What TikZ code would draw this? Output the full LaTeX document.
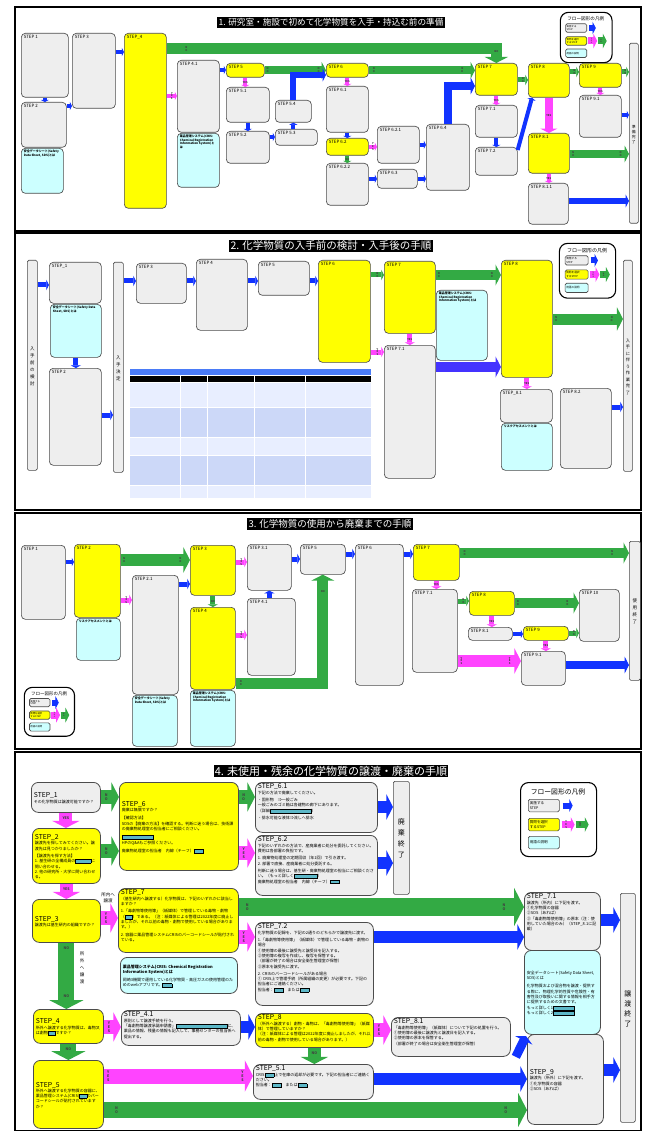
\documentclass[tikz,border=0pt]{standalone}
\usepackage{fontspec}
\setmainfont{Noto Sans CJK JP}
\XeTeXlinebreaklocale "ja"
\XeTeXlinebreakskip=0pt plus .5pt
\usetikzlibrary{arrows.meta,calc}

\definecolor{boxG}{HTML}{EEEEEE}
\definecolor{boxY}{HTML}{FFFF00}
\definecolor{boxC}{HTML}{CCFFFF}
\definecolor{arB}{HTML}{1133FF}
\definecolor{arG}{HTML}{33AA44}
\definecolor{arM}{HTML}{FF44FF}
\definecolor{arP}{HTML}{4433FF}
\definecolor{lnkC}{HTML}{5DB8C8}
\definecolor{tblT}{HTML}{4A7BF7}
\definecolor{tblA}{HTML}{E8EEFF}
\definecolor{tblB}{HTML}{CCD8F8}

\tikzset{
  gbox/.style={draw=black!70, fill=boxG, rounded corners=4pt, line width=.65pt},
  ybox/.style={gbox, fill=boxY},
  cbox/.style={gbox, fill=boxC},
  endbar/.style={gbox, rounded corners=1.5pt},
  big/.style={rounded corners=7pt, line width=.8pt, font=\fontsize{4}{5.3}\selectfont},
  sm/.style={font=\fontsize{3}{3.7}\selectfont},
  band/.style={line width=#1, -{Triangle[length=0pt .55, width=0pt 2.1]}},
  lb/.style={font=\fontsize{2.6}{2.9}\selectfont\bfseries, align=center, inner sep=0pt, text=black!75},
  lb4/.style={font=\fontsize{3.6}{3.9}\selectfont\bfseries, align=center, inner sep=0pt, text=black!75},
  lgb/.style={anchor=north west, minimum width=31pt, minimum height=12.5pt, rounded corners=1.5pt,
    inner sep=1pt, align=left, text width=28pt, font=\fontsize{3.6}{4.2}\selectfont},
  ttl/.style={fill=black, text=white, inner sep=1.2pt},
  frm/.style={line width=1.5pt}
}

% box: name, style, inner pos, x, y, width, height, text
\newcommand\bx[8]{%
  \node[#2, anchor=north west, inner sep=0pt, minimum width=#6pt, minimum height=#7pt] (#1) at (#4,#5)
    {\parbox[c][#7pt][#3]{\dimexpr#6pt-5pt\relax}{\raggedright\vspace*{1.5pt}#8}};}
\newcommand\sst[1]{{\fontsize{4.4}{5.2}\selectfont #1\par}}
\newcommand\stp[1]{{\fontsize{6.8}{8.2}\selectfont #1\par}}
\newcommand\hd[1]{{\bfseries #1\par}}
\newcommand\lk[1]{{\setlength\fboxsep{.4pt}\setlength\fboxrule{.45pt}\fcolorbox{black}{lnkC}{\rule{0pt}{2.6pt}\hspace{#1pt}}}}

\newcommand\flowlegend[3]{%
  \begin{scope}[shift={(#1,#2)}, scale=#3, transform shape]
    \node[draw, line width=1.1pt, rounded corners=8pt, anchor=north west, minimum width=76pt,
      minimum height=74pt, inner sep=0pt] (lgf) at (0,0) {};
    \node[font=\fontsize{6.8}{7}\selectfont] (lgt) at (38,10) {フロー図形の凡例};
    \node[gbox, lgb] (lg1) at (8,17) {実施する\\STEP};
    \node[ybox, lgb] (lg2) at (8,36) {質問を選択\\するSTEP};
    \node[cbox, lgb] (lg3) at (8,54) {用語の説明};
    \draw[band=6pt, arB] ($(lg1.east)+(3,0)$) -- ($(lg1.east)+(13,0)$);
    \draw[band=7pt, arM] ($(lg2.east)+(2,0)$) -- ($(lg2.east)+(15,0)$) node[lb,pos=.35] (lgy) {Y\\E\\S};
    \draw[band=7pt, arG] ($(lg2.east)+(16,0)$) -- ($(lg2.east)+(29,0)$) node[lb,pos=.35] (lgn) {N\\O};
  \end{scope}}

\begin{document}
\begin{tikzpicture}[x=1pt, y=-1pt, font=\fontsize{4}{5.3}\selectfont]
\useasboundingbox (0,0) rectangle (649,1131);
\fill[white] (0,0) rectangle (649,1131);

\draw[frm] (15,7) rectangle (641,231);
\draw[frm] (15,233) rectangle (641,510);
\draw[frm] (15,513) rectangle (641,749);
\draw[frm] (15,752) rectangle (641,1131);

% panel 1
\node[ttl, font=\fontsize{8.6}{9}\selectfont] (t1) at (331,22.5) {1. 研究室・施設で初めて化学物質を入手・持込む前の準備};
\flowlegend{560}{12}{.68}
\bx{p1s1}{gbox}{t}{21}{33}{47}{64}{\sst{STEP 1}}
\bx{p1s2}{gbox}{t}{21}{102}{45}{45}{\sst{STEP 2}}
\bx{p1c1}{cbox,sm}{t}{21}{148}{42}{45}{\hd{安全データシート(Safety Data Sheet, SDS)とは}}
\bx{p1s3}{gbox}{t}{72}{33}{43}{75}{\sst{STEP 3}}
\bx{p1s4}{ybox}{t}{124}{33}{42}{175}{\sst{STEP\_4}}
\bx{p1s41}{gbox}{t}{177}{60}{42}{72}{\sst{STEP 4.1}}
\bx{p1c2}{cbox,sm}{t}{177}{133}{42}{54}{\hd{薬品管理システム(CRIS: Chemical Registration Information System)とは}}
\bx{p1s5}{ybox}{t}{226}{63}{38}{14}{\sst{STEP 5}}
\bx{p1s51}{gbox}{t}{226}{87}{43}{35}{\sst{STEP 5.1}}
\bx{p1s52}{gbox}{t}{226}{131}{43}{32}{\sst{STEP 5.2}}
\bx{p1s54}{gbox}{t}{275}{100}{36}{22}{\sst{STEP 5.4}}
\bx{p1s53}{gbox}{t}{275}{129}{42}{16}{\sst{STEP 5.3}}
\bx{p1s6}{ybox}{t}{326}{63}{42}{14}{\sst{STEP 6}}
\bx{p1s61}{gbox}{t}{326}{86}{42}{46}{\sst{STEP 6.1}}
\bx{p1s62}{ybox}{t}{326}{138}{42}{17}{\sst{STEP 6.2}}
\bx{p1s622}{gbox}{t}{326}{163}{42}{42}{\sst{STEP 6.2.2}}
\bx{p1s621}{gbox}{t}{377}{126}{42}{37}{\sst{STEP 6.2.1}}
\bx{p1s63}{gbox}{t}{377}{169}{40}{19}{\sst{STEP 6.3}}
\bx{p1s64}{gbox}{t}{426}{124}{43}{66}{\sst{STEP 6.4}}
\bx{p1s7}{ybox}{t}{475}{63}{42}{32}{\sst{STEP 7}}
\bx{p1s71}{gbox}{t}{475}{105}{42}{32}{\sst{STEP 7.1}}
\bx{p1s72}{gbox}{t}{475}{147}{42}{28}{\sst{STEP 7.2}}
\bx{p1s8}{ybox}{t}{528}{63}{41}{34}{\sst{STEP 8}}
\bx{p1s81}{ybox}{t}{528}{133}{41}{40}{\sst{STEP 8.1}}
\bx{p1s811}{gbox}{t}{528}{183}{40}{41}{\sst{STEP 8.1.1}}
\bx{p1s9}{ybox}{t}{579}{63}{42}{24}{\sst{STEP 9}}
\bx{p1s91}{gbox}{t}{579}{95}{42}{42}{\sst{STEP 9.1}}
\bx{p1bar}{endbar}{c}{629}{43}{9}{180}{{\fontsize{3.8}{5}\selectfont\centering 準\\備\\完\\了\par}}

\draw[band=4pt,arB] (p1s1.south) -- (p1s1.south |- p1s2.north);
\draw[band=4pt,arB] (p1s2.north east |- 0,106) -- (p1s3.west |- 0,106);
\draw[band=4pt,arB] (p1s3.east |- 0,52) -- (p1s4.west |- 0,52);
\draw[band=11pt,arG] (p1s4.east |- 0,49) -| (p1s7.north) node[lb,pos=.03] (n1a) {N\\O} node[lb,pos=.6] (n1b) {NO};
\draw[band=4pt,arM] (p1s4.east |- 0,96) -- (p1s41.west |- 0,96) node[lb,midway] (y1a) {Y\\E\\S};
\draw[band=4pt,arB] (p1s41.east |- 0,70) -- (p1s5.west |- 0,70);
\draw[band=8pt,arG] (p1s5.east) -- (p1s6.west) node[lb,pos=.05] (n1c) {N\\O} node[lb,pos=.88] (n1d) {N\\O};
\draw[band=4pt,arM] (p1s5.south) -- (p1s5.south |- p1s51.north) node[lb,midway] (y1b) {YES};
\draw[band=4pt,arB] (p1s51.south) -- (p1s51.south |- p1s52.north);
\draw[band=4pt,arB] (p1s52.east |- 0,137) -- (p1s53.west |- 0,137);
\draw[band=4pt,arB] (p1s54.south |- p1s53.north) -- (p1s54.south);
\draw[band=6pt,arB] (p1s54.north) |- (p1s6.west |- 0,75);
\draw[band=8pt,arG] (p1s6.east) -- (p1s7.west |- p1s6.east) node[lb,pos=.05] (n1e) {N\\O} node[lb,pos=.88] (n1f) {N\\O};
\draw[band=4pt,arM] (p1s6.south) -- (p1s6.south |- p1s61.north) node[lb,midway] (y1c) {YES};
\draw[band=4pt,arB] (p1s61.south) -- (p1s61.south |- p1s62.north);
\draw[band=4pt,arM] (p1s62.east) -- (p1s62.east -| p1s621.west) node[lb,midway] (y1d) {Y\\E\\S};
\draw[band=4pt,arG] (p1s62.south) -- (p1s62.south |- p1s622.north) node[lb,midway] (n1g) {NO};
\draw[band=4pt,arB] (p1s621.east) -- (p1s621.east -| p1s64.west);
\draw[band=4pt,arB] (p1s63.west -| p1s622.east) -- (p1s63.west);
\draw[band=4pt,arB] (p1s63.east) -- (p1s63.east -| p1s64.west);
\draw[band=8pt,arB] (p1s64.north) |- (p1s7.west |- 0,86);
\draw[band=4pt,arM] (p1s7.south) -- (p1s7.south |- p1s71.north) node[lb,midway] (y1e) {YES};
\draw[band=4pt,arB] (p1s71.south) -- (p1s71.south |- p1s72.north);
\draw[band=4pt,arB] (p1s72.north east |- 0,150) -- ([xshift=4pt]p1s8.south west);
\draw[band=5pt,arG] (p1s7.east |- 0,80) -- (p1s8.west |- 0,80) node[lb,midway] (n1h) {N\\O};
\draw[band=8pt,arM] (p1s8.south) -- (p1s8.south |- p1s81.north) node[lb,midway] (y1f) {YES};
\draw[band=5pt,arG] (p1s8.east |- 0,72) -- (p1s9.west |- 0,72) node[lb,midway] (n1i) {N\\O};
\draw[band=4pt,arM] (p1s9.south) -- (p1s9.south |- p1s91.north) node[lb,midway] (y1g) {YES};
\draw[band=5pt,arG] (p1s9.east |- 0,72) -- (p1bar.west |- 0,72) node[lb,midway] (n1j) {N\\O};
\draw[band=4pt,arB] (p1s91.east |- 0,115) -- (p1bar.west |- 0,115);
\draw[band=8pt,arG] (p1s81.east |- 0,154) -- (p1bar.west |- 0,154) node[lb,pos=.06] (n1k) {N\\O} node[lb,pos=.86] (n1l) {N\\O};
\draw[band=4pt,arM] (p1s81.south) -- (p1s81.south |- p1s811.north) node[lb,midway] (y1h) {YES};
\draw[band=6pt,arB] (p1s811.east |- 0,201) -- (p1bar.west |- 0,201);

% panel 2
\node[ttl, font=\fontsize{10.5}{11}\selectfont] (t2) at (331,246) {2. 化学物質の入手前の検討・入手後の手順};
\flowlegend{559}{243}{.74}
\fill[tblT] (130,369) rectangle (371,375);
\fill[black] (130,376) rectangle (371,382);
\foreach \ya/\yb/\cl in {383/407/tblA, 408/437/tblB, 438/455/tblA, 456/485/tblB, 486/498/tblA}
  \fill[\cl] (130,\ya) rectangle (371,\yb);
\foreach \xx in {180,207,254,305}
  \draw[white, line width=.8pt] (\xx,376) -- (\xx,498);
\foreach \yy in {382.5,407.5,437.5,455.5,485.5}
  \draw[white, line width=.8pt] (130,\yy) -- (371,\yy);
\bx{p2bar1}{endbar}{c}{27}{260}{10}{210}{{\fontsize{4.5}{7}\selectfont\centering 入\\手\\前\\の\\検\\討\par}}
\bx{p2s1}{gbox}{t}{49}{262}{52}{41}{\sst{STEP\_1}}
\bx{p2c1}{cbox,sm}{t}{50}{304}{51}{53}{\hd{安全データシート(Safety Data Sheet, SDS)とは}}
\bx{p2s2}{gbox}{t}{49}{368}{52}{97}{\sst{STEP 2}}
\bx{p2bar2}{endbar}{c}{113}{262}{10}{210}{{\fontsize{4.5}{7}\selectfont\centering 入\\手\\決\\定\par}}
\bx{p2s3}{gbox}{t}{136}{263}{50}{40}{\sst{STEP 3}}
\bx{p2s4}{gbox}{t}{196}{259}{51}{71}{\sst{STEP 4}}
\bx{p2s5}{gbox}{t}{258}{261}{51}{34}{\sst{STEP 5}}
\bx{p2s6}{ybox}{t}{318}{260}{52}{102}{\sst{STEP 6}}
\bx{p2s7}{ybox}{t}{384}{261}{51}{72}{\sst{STEP 7}}
\bx{p2s71}{gbox}{t}{384}{345}{51}{133}{\sst{STEP 7.1}}
\bx{p2c2}{cbox,sm}{t}{436}{290}{51}{70}{\hd{薬品管理システム(CRIS: Chemical Registration Information System)とは}}
\bx{p2s8}{ybox}{t}{501}{260}{51}{117}{\sst{STEP 8}}
\bx{p2s81}{gbox}{t}{500}{389}{52}{33}{\sst{STEP\_8.1}}
\bx{p2c3}{cbox,sm}{t}{501}{423}{51}{47}{\hd{リスクアセスメントとは}}
\bx{p2s82}{gbox}{t}{560}{388}{51}{80}{\sst{STEP 8.2}}
\bx{p2bar3}{endbar}{c}{623}{260}{9}{211}{{\fontsize{4.2}{6.5}\selectfont\centering 入\\手\\に\\伴\\う\\作\\業\\完\\了\par}}

\draw[band=5pt,arB] (p2bar1.east |- 0,285) -- (p2s1.west |- 0,285);
\draw[band=5pt,arB] (p2c1.south) -- (p2c1.south |- p2s2.north);
\draw[band=5pt,arB] (p2s2.east |- 0,415) -- (p2bar2.west |- 0,415);
\draw[band=5pt,arB] (p2bar2.east |- 0,281) -- (p2s3.west |- 0,281);
\draw[band=5pt,arB] (p2s3.east |- 0,281) -- (p2s4.west |- 0,281);
\draw[band=5pt,arB] (p2s4.east |- 0,281) -- (p2s5.west |- 0,281);
\draw[band=5pt,arB] (p2s5.east |- 0,281) -- (p2s6.west |- 0,281);
\draw[band=5pt,arG] (p2s6.east |- 0,275) -- (p2s7.west |- 0,275) node[lb,midway] (n2a) {N\\O};
\draw[band=5pt,arM] (p2s6.east |- 0,352) -- (p2s71.west |- 0,352) node[lb,midway] (y2a) {Y\\E\\S};
\draw[band=5pt,arM] (p2s7.south) -- (p2s7.south |- p2s71.north) node[lb,midway] (y2b) {YES};
\draw[band=10pt,arG] (p2s7.east |- 0,275) -- (p2s8.west |- 0,275) node[lb,pos=.05] (n2b) {N\\O} node[lb,pos=.86] (n2c) {N\\O};
\draw[band=10pt,arP] (p2s71.east |- 0,367) -- (p2s8.west |- 0,367);
\draw[band=5pt,arM] (p2s8.south) -- (p2s8.south |- p2s81.north) node[lb,midway] (y2c) {YES};
\draw[band=11pt,arG] (p2s8.east |- 0,319) -- (p2bar3.west |- 0,319) node[lb,pos=.05] (n2d) {N\\O} node[lb,pos=.84] (n2e) {N\\O};
\draw[band=5pt,arB] (p2s82.east |- 0,407) -- (p2bar3.west |- 0,407);

% panel 3
\node[ttl, font=\fontsize{9.5}{10}\selectfont] (t3) at (330,524) {3. 化学物質の使用から廃棄までの手順};
\flowlegend{24}{687}{.66}
\bx{p3s1}{gbox}{t}{21}{545}{44}{74}{\sst{STEP 1}}
\bx{p3s2}{ybox}{t}{74}{544}{46}{73}{\sst{STEP 2}}
\bx{p3c1}{cbox,sm}{t}{76}{618}{44}{42}{\hd{リスクアセスメントとは}}
\bx{p3s21}{gbox}{t}{132}{575}{46}{119}{\sst{STEP 2.1}}
\bx{p3c2}{cbox,sm}{t}{132}{695}{45}{51}{\hd{安全データシート(Safety Data Sheet, SDS)とは}}
\bx{p3s3}{ybox}{t}{190}{545}{45}{50}{\sst{STEP 3}}
\bx{p3s4}{ybox}{t}{190}{607}{45}{82}{\sst{STEP 4}}
\bx{p3c3}{cbox,sm}{t}{190}{690}{45}{56}{\hd{薬品管理システム(CRIS: Chemical Registration Information System)とは}}
\bx{p3s31}{gbox}{t}{247}{544}{44}{46}{\sst{STEP 3.1}}
\bx{p3s41}{gbox}{t}{247}{598}{48}{77}{\sst{STEP 4.1}}
\bx{p3s5}{gbox}{t}{300}{544}{45}{30}{\sst{STEP 5}}
\bx{p3s6}{gbox}{t}{355}{544}{48}{141}{\sst{STEP 6}}
\bx{p3s7}{ybox}{t}{413}{544}{46}{36}{\sst{STEP 7}}
\bx{p3s71}{gbox}{t}{412}{589}{45}{83}{\sst{STEP 7.1}}
\bx{p3s8}{ybox}{t}{469}{591}{45}{24}{\sst{STEP 8}}
\bx{p3s81}{gbox}{t}{468}{627}{44}{13}{\sst{STEP 8.1}}
\bx{p3s9}{ybox}{t}{523}{626}{45}{14}{\sst{STEP 9}}
\bx{p3s91}{gbox}{t}{521}{651}{44}{34}{\sst{STEP 9.1}}
\bx{p3s10}{gbox}{t}{579}{589}{40}{52}{\sst{STEP 10}}
\bx{p3bar}{endbar}{c}{629}{541}{11}{139}{{\fontsize{4.5}{7}\selectfont\centering 使\\用\\終\\了\par}}

\draw[band=4pt,arB] (p3s1.east |- 0,562) -- (p3s2.west |- 0,562);
\draw[band=12pt,arG] (p3s2.east |- 0,560) -- (p3s3.west |- 0,560) node[lb,pos=.05] (n3a) {N\\O} node[lb,pos=.86] (n3b) {N\\O};
\draw[band=5pt,arM] (p3s2.east |- 0,600) -- (p3s21.west |- 0,600) node[lb,midway] (y3a) {Y\\E\\S};
\draw[band=5pt,arB] (p3s21.east |- 0,584) -- (p3s3.west |- 0,584);
\draw[band=5pt,arM] (p3s3.east |- 0,562) -- (p3s31.west |- 0,562) node[lb,midway] (y3b) {Y\\E\\S};
\draw[band=5pt,arG] (p3s3.south) -- (p3s4.north) node[lb,midway] (n3c) {NO};
\draw[band=5pt,arM] (p3s4.east |- 0,635) -- (p3s41.west |- 0,635) node[lb,midway] (y3c) {Y\\E\\S};
\draw[band=11pt,arG] (p3s4.east |- 0,683) -| (p3s5.south) node[lb,pos=.03] (n3d) {N\\O} node[lb,pos=.92] (n3e) {NO};
\draw[band=5pt,arB] (p3s31.south |- p3s41.north) -- (p3s31.south);
\draw[band=5pt,arB] (p3s31.east |- 0,559) -- (p3s5.west |- 0,559);
\draw[band=5pt,arB] (p3s5.east |- 0,554) -- (p3s6.west |- 0,554);
\draw[band=5pt,arB] (p3s6.east |- 0,554) -- (p3s7.west |- 0,554);
\draw[band=10pt,arG] (p3s7.east |- 0,553) -- (p3bar.west |- 0,553) node[lb,pos=.03] (n3f) {N\\O} node[lb,pos=.9] (n3g) {N\\O};
\draw[band=5pt,arM] (p3s7.south) -- (p3s7.south |- p3s71.north) node[lb,midway] (y3d) {YES};
\draw[band=5pt,arG] (p3s71.east |- 0,601) -- (p3s8.west |- 0,601) node[lb,midway] (n3h) {N\\O};
\draw[band=12pt,arM] (p3s71.east |- 0,661) -- (p3s91.west |- 0,661) node[lb,pos=.06] (y3e) {Y\\E\\S} node[lb,pos=.82] (y3f) {Y\\E\\S};
\draw[band=10pt,arG] (p3s8.east |- 0,603) -- (p3s10.west |- 0,603) node[lb,pos=.05] (n3i) {N\\O} node[lb,pos=.82] (n3j) {N\\O};
\draw[band=5pt,arM] (p3s8.south) -- (p3s8.south |- p3s81.north) node[lb,midway] (y3g) {YES};
\draw[band=4pt,arB] (p3s81.east |- 0,634) -- (p3s9.west |- 0,634);
\draw[band=5pt,arG] (p3s9.east |- 0,633) -- (p3s10.west |- 0,633) node[lb,midway] (n3k) {N\\O};
\draw[band=5pt,arM] (p3s9.south) -- (p3s9.south |- p3s91.north) node[lb,midway] (y3h) {YES};
\draw[band=8pt,arB] (p3s91.east |- 0,665) -- (p3bar.west |- 0,665);

% panel 4
\node[ttl, font=\fontsize{11}{12}\selectfont] (t4) at (331,771) {4. 未使用・残余の化学物質の譲渡・廃棄の手順};
\flowlegend{520}{782}{1}
\bx{p4s1}{gbox,big}{c}{31}{782}{69}{30}{\stp{STEP\_1}その化学物質は譲渡可能ですか？}
\bx{p4s2}{ybox,big}{c}{32}{828}{68}{55}{\stp{STEP\_2}譲渡先を探してみてください。譲渡先は見つかりましたか？\par\vspace{2pt}【譲渡先を探す方法】\par 1. 基生研の全構成員の\lk{14}に問い合わせる。\par 2. 他の研究所・大学に問い合わせる。}
\bx{p4s3}{ybox,big}{c}{32}{899}{68}{43}{\stp{STEP\_3}譲渡先は基生研内の組織ですか？}
\bx{p4s4}{ybox,big}{c}{33}{1009}{70}{34}{\stp{STEP\_4}所外へ譲渡する化学物質は、毒物又は劇物\lk{6}ですか？}
\bx{p4s5}{ybox,big}{c}{33}{1060}{70}{68}{\stp{STEP\_5}所外へ譲渡する化学物質の容器に、薬品管理システム(CRIS)\lk{6}のバーコードシールが貼付されていますか？}
\bx{p4s6}{ybox,big}{c}{119}{782}{119}{88}{\stp{STEP\_6}廃棄は無償ですか？\par\vspace{3pt}【確認方法】\par SDSの【廃棄の方法】を確認する。判断に迷う場合は、技術課の廃棄物処理室の担当者にご相談ください。\par\vspace{3pt}\lk{30}\par HPのQ\&Aもご参照ください。\par\vspace{3pt}廃棄物処理室の担当者　内線（チーフ）\lk{8}}
\bx{p4s7}{ybox,big}{t}{118}{888}{120}{64}{\stp{STEP\_7}（基生研内へ譲渡する）化学物質は、下記のいずれかに該当しますか？\par\vspace{2pt}1.「毒劇物等使用簿」（紙媒体）で管理している毒物・劇物（\lk{6}）である。（注：紙媒体による管理は2022年度に廃止しましたが、それ以前の毒物・劇物で使用している場合があります。）\par\vspace{2pt}2. 容器に薬品管理システムCRISのバーコードシールが貼付されている。}
\bx{p4c1}{cbox,big}{c}{120}{957}{117}{36}{\hd{薬品管理システム(CRIS: Chemical Registration Information System)とは}\vspace{3pt}岡崎3機関で運用している化学物質・高圧ガスの使用管理のためのwebアプリです。\lk{8}}
\bx{p4s41}{gbox,big}{t}{121}{1010}{119}{35}{\stp{STEP\_4.1}原則として譲渡手続を行う。\par「毒劇物等譲渡承諾申請書」\lk{50}に、薬品の情報、残量の情報も記入して、事務センターの担当係へ提出する。}
\bx{p4s61}{gbox,big}{t}{255}{782}{122}{50}{\stp{STEP\_6.1}下記の方法で廃棄してください。\par\vspace{2pt}・固形物　⇒一般ごみ\par 一般ごみのゴミ箱は各建物の廊下にあります。\par（詳細\lk{40}）\par\vspace{2pt}・排水可能な液体⇒流しへ排水}
\bx{p4s62}{gbox,big}{t}{255}{835}{122}{60}{\stp{STEP\_6.2}下記のいずれかの方法で、産廃業者に処分を委託してください。費用は各部署の負担です。\par\vspace{2pt}1. 廃棄物処理室の定期回収（年1回）で引き渡す。\par 2. 部署で直接、産廃業者に処分委託する。\par\vspace{2pt}判断に迷う場合は、基生研・廃棄物処理室の担当にご相談ください。（もっと詳しく\lk{22}）\par 廃棄物処理室の担当者　内線（チーフ）\lk{8}}
\bx{p4s72}{gbox,big}{t}{255}{922}{118}{83}{\stp{STEP\_7.2}化学物質の記録を、下記の2通りのどちらかで譲渡先に渡す。\par\vspace{2pt}1.「毒劇物等使用簿」（紙媒体）で管理している毒物・劇物の場合\par ①使用簿の最後に譲受先と譲受日を記入する。\par ②使用簿の複写を作成し、複写を保管する。\par（部署が終了の場合は安全衛生管理室が保管）\par ③原本を譲受先に渡す。\par\vspace{2pt}2. CRISのバーコードシールがある場合\par ① CRIS上で管理手続（所属組織の変更）が必要です。下記の担当者にご連絡ください。\par 担当者：\lk{8}　または\lk{8}}
\bx{p4s8}{ybox,big}{t}{255}{1013}{118}{34}{\stp{STEP\_8}（所外へ譲渡する）劇物・毒物は、「毒劇物等使用簿」（紙媒体）で管理していますか？\par（注：紙媒体による管理は2022年度に廃止しましたが、それ以前の毒物・劇物で使用している場合があります。）}
\bx{p4s51}{gbox,big}{t}{253}{1064}{120}{35}{\stp{STEP\_5.1}CRIS\lk{8}上で在庫の返却が必要です。下記の担当者にご連絡ください。\par 担当者：\lk{8}　または\lk{8}}
\bx{p4s81}{gbox,big}{t}{391}{1017}{119}{39}{\stp{STEP\_8.1}「毒劇物等使用簿」（紙媒体）について下記の処置を行う。\par ①使用簿の最後に譲渡先と譲渡日を記入する。\par ②使用簿の原本を保管する。\par（部署が終了の場合は安全衛生管理室が保管）}
\bx{p4bar1}{endbar}{c}{393}{781}{16}{113}{{\fontsize{7}{11}\selectfont\centering 廃\\棄\\終\\了\par}}
\bx{p4s71}{gbox,big}{t}{524}{892}{76}{58}{\stp{STEP\_7.1}譲渡先（所内）に下記を渡す。\par ①化学物質の容器\par ②SDS（あれば）\par ③「毒劇物等使用簿」の原本（注：使用していた場合のみ）（STEP\_8.1に記載）}
\bx{p4c2}{cbox,big}{c}{524}{950}{76}{84}{安全データシート(Safety Data Sheet, SDS)とは\par\vspace{3pt}化学物質および混合物を譲渡・提供する際に、物理化学的性質や危険性・有害性及び取扱いに関する情報を相手方に提供するための文書です。\par もっと詳しく1\lk{20}\par もっと詳しく2\lk{20}}
\bx{p4s9}{gbox,big}{c}{527}{1034}{76}{90}{\stp{STEP\_9}譲渡先（所外）に下記を渡す。\par ①化学物質の容器\par ②SDS（あれば）}
\bx{p4bar2}{endbar}{c}{620}{893}{15}{229}{{\fontsize{7}{10}\selectfont\centering 譲\\渡\\終\\了\par}}
\node[font=\fontsize{4.5}{5.5}\selectfont, align=center, inner sep=0pt] (naib) at (108,898) {所内へ\\譲渡};
\node[font=\fontsize{4.5}{7}\selectfont, align=center, inner sep=0pt] (gaib) at (82,968) {所\\外\\へ\\譲\\渡};

\draw[band=13pt,arM] (p4s1.south) -- (p4s1.south |- p4s2.north) node[lb4,pos=.35] (y4a) {YES};
\draw[band=13pt,arM] (p4s2.south) -- (p4s2.south |- p4s3.north) node[lb4,pos=.35] (y4b) {YES};
\draw[band=14pt,arG] (p4s1.east |- 0,797) -- (p4s6.west |- 0,797) node[lb4,pos=.3] (n4a) {N\\O};
\draw[band=14pt,arG] (p4s2.east |- 0,851) -- (p4s6.west |- 0,851) node[lb4,pos=.3] (n4b) {N\\O};
\draw[band=14pt,arG] (p4s6.east |- 0,797) -- (p4s61.west |- 0,797) node[lb4,pos=.3] (n4c) {N\\O};
\draw[band=14pt,arM] (p4s6.east |- 0,853) -- (p4s62.west |- 0,853) node[lb4,pos=.3] (y4c) {Y\\E\\S};
\draw[band=12pt,arB] (p4s61.east |- 0,807) -- (p4bar1.west |- 0,807);
\draw[band=12pt,arB] (p4s62.east |- 0,863) -- (p4bar1.west |- 0,863);
\draw[band=14pt,arM] (p4s3.east |- 0,918) -- (p4s7.west |- 0,918) node[lb4,pos=.3] (y4d) {Y\\E\\S};
\draw[band=18pt,arG] (p4s7.east |- 0,907) -- (p4s71.west |- 0,907) node[lb4,pos=.03] (n4d) {N\\O} node[lb4,pos=.93] (n4e) {N\\O};
\draw[band=14pt,arM] (p4s7.east |- 0,937) -- (p4s72.west |- 0,937) node[lb4,pos=.3] (y4e) {Y\\E\\S};
\draw[band=12pt,arB] (p4s72.east |- 0,937) -- (p4s71.west |- 0,937);
\draw[band=12pt,arB] (p4s71.east |- 0,920) -- (p4bar2.west |- 0,920);
\draw[band=16pt,arG] (p4s3.south) -- (p4s3.south |- p4s4.north) node[lb4,pos=.08] (n4f) {NO} node[lb4,pos=.8] (n4g) {NO};
\draw[band=14pt,arM] (p4s4.east |- 0,1027) -- (p4s41.west |- 0,1027) node[lb4,pos=.3] (y4f) {Y\\E\\S};
\draw[band=12pt,arB] (p4s41.east |- 0,1027) -- (p4s8.west |- 0,1027);
\draw[band=14pt,arM] (p4s8.east |- 0,1030) -- (p4s81.west |- 0,1030) node[lb4,pos=.3] (y4g) {Y\\E\\S};
\draw[band=9pt,arB] ([xshift=5pt]p4s81.south east) -- ([xshift=-1pt,yshift=-2pt]p4s9.north west);
\draw[band=16pt,arG] (p4s4.south) -- (p4s4.south |- p4s5.north) node[lb4,pos=.3] (n4h) {NO};
\draw[band=13pt,arG] (p4s8.south) -- (p4s8.south |- p4s51.north) node[lb4,pos=.3] (n4i) {NO};
\draw[band=15pt,arM] (p4s5.east |- 0,1076) -- (p4s51.west |- 0,1076) node[lb4,pos=.03] (y4h) {Y\\E\\S} node[lb4,pos=.93] (y4i) {Y\\E\\S};
\draw[band=12pt,arB] (p4s51.east |- 0,1079) -- (p4s9.west |- 0,1079);
\draw[band=16pt,arG] (p4s5.east |- 0,1110) -- (p4s9.west |- 0,1110) node[lb4,pos=.03] (n4j) {N\\O} node[lb4,pos=.95] (n4k) {N\\O};
\draw[band=12pt,arB] (p4s9.east |- 0,1070) -- (p4bar2.west |- 0,1070);
\end{tikzpicture}
\end{document}
